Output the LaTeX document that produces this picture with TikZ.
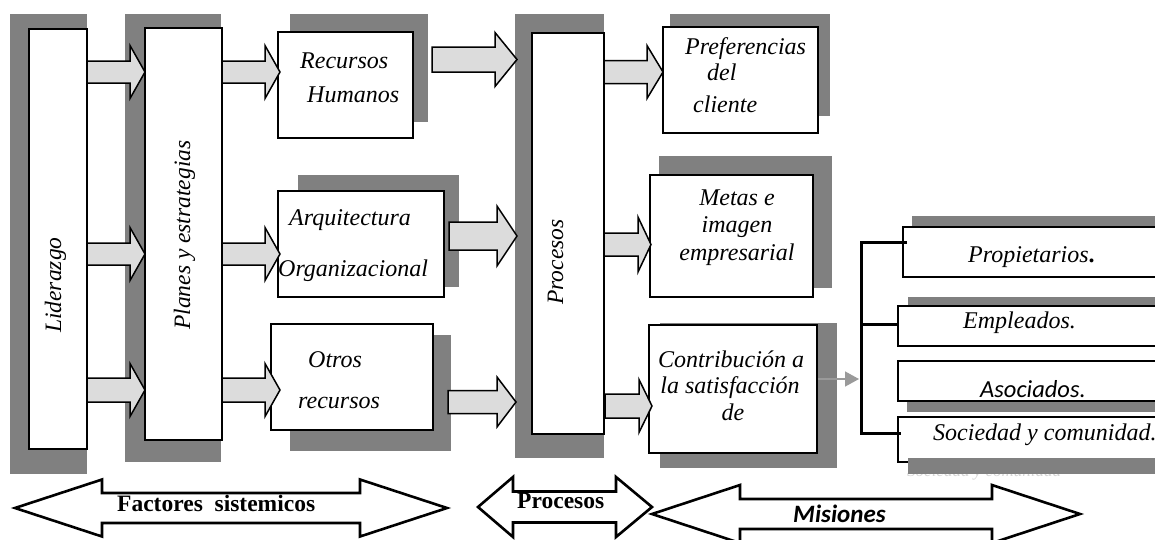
\documentclass[tikz,border=0pt]{standalone}
\usepackage{fontspec}
\setmainfont{Liberation Serif}
\newfontfamily\calfont{Carlito}
\usetikzlibrary{fit,arrows.meta}
\definecolor{shadowgray}{HTML}{808080}
\definecolor{arrowfill}{HTML}{DCDCDC}
\definecolor{ghost}{HTML}{D4D4D4}
\definecolor{linkgray}{HTML}{9A9A9A}

% gray block arrow: tail x, neck x, tip x, centre y, shaft half height, head half height
\newcommand\blockarrow[6]{%
  \draw[blockarrow] (#1,#4-#5) -- (#2,#4-#5) -- (#2,#4-#6) -- (#3,#4)
    -- (#2,#4+#6) -- (#2,#4+#5) -- (#1,#4+#5) -- cycle;}
% white double-headed span arrow: left tip, left neck, right neck, right tip, centre y, shaft half, head half
\newcommand\spanarrow[7]{%
  \draw[spanarrow] (#1,#5) -- (#2,#5-#7) -- (#2,#5-#6) -- (#3,#5-#6) -- (#3,#5-#7)
    -- (#4,#5) -- (#3,#5+#7) -- (#3,#5+#6) -- (#2,#5+#6) -- (#2,#5+#7) -- cycle;}

\begin{document}
\begin{tikzpicture}[x=1pt,y=-1pt,
  panel/.style={draw, line width=1.6pt, fill=white, inner sep=0pt},
  shade/.style={fill=shadowgray},
  blockarrow/.style={draw, line width=1.5pt, fill=arrowfill, line join=miter},
  spanarrow/.style={draw, line width=2.6pt, fill=white, line join=miter},
  lbl/.style={font=\fontsize{24}{28}\selectfont\itshape, inner sep=0pt},
  vlbl/.style={font=\fontsize{23.5}{28}\selectfont\itshape, inner sep=0pt, rotate=90, anchor=base west},
  blbl/.style={font=\fontsize{23.5}{28}\selectfont\bfseries, inner sep=0pt, anchor=base west},
  bracket/.style={line width=3pt},
  linkarrow/.style={draw=linkgray, line width=1.5pt, -{Triangle[length=14pt,width=15pt,fill=linkgray]}},
]
\useasboundingbox (0,0) rectangle (1155,539);
\clip (0,0) rectangle (1155,539);

% ---- shadows of the main panels
\fill[shade] (10,14) rectangle (87,474);
\fill[shade] (125,14) rectangle (221,462);
\fill[shade] (290,14) rectangle (428,122);
\fill[shade] (298,175) rectangle (459,287);
\fill[shade] (290,335) rectangle (451,451);
\fill[shade] (515,14) rectangle (604,458);
\fill[shade] (670,14) rectangle (830,116);
\fill[shade] (659,156) rectangle (832,288);
\fill[shade] (660,323) rectangle (837,468);

% ---- panels
\node[panel, fit={(29,29) (87,449)}] (lid) {};
\node[panel, fit={(145,28) (222,440)}] (pla) {};
\node[panel, fit={(278,32) (413,138)}] (rh) {};
\node[panel, fit={(278,191) (444,297)}] (arq) {};
\node[panel, fit={(271,324) (433,430)}] (otr) {};
\node[panel, fit={(532,33) (604,434)}] (pro) {};
\node[panel, fit={(663,27) (818,133)}] (pre) {};
\node[panel, fit={(650,175) (813,297)}] (met) {};
\node[panel, fit={(649,325) (817,453)}] (con) {};

% ---- block arrows: leadership -> plans
\blockarrow{87}{130}{145}{72}{11}{26.5}
\blockarrow{87}{130}{145}{254}{11}{26.5}
\blockarrow{87}{130}{145}{390}{12}{26.5}
% plans -> resources
\blockarrow{222}{265}{280}{72}{11}{26.5}
\blockarrow{222}{265}{280}{254}{11}{26.5}
\blockarrow{222}{265}{280}{390}{12}{26.5}
% resources -> processes
\blockarrow{432}{495}{517}{59.5}{12.5}{27}
\blockarrow{449}{497}{517}{236}{14}{30}
\blockarrow{448}{497}{516}{402}{11.5}{25}
% processes -> results
\blockarrow{604}{647}{663}{72}{11.5}{26.5}
\blockarrow{604}{638}{651}{244.5}{11.5}{27.5}
\blockarrow{605}{639}{652}{406}{12}{26.5}

% ---- panel texts
\node[vlbl] (lid-t) at (61,333) {Liderazgo};
\node[vlbl] (pla-t) at (190,330) {Planes y estrategias};
\node[vlbl] (pro-t) at (563,305) {Procesos};

\node[lbl, anchor=base west] (rh-1) at (300,68) {Recursos};
\node[lbl, anchor=base west] (rh-2) at (307,102) {Humanos};
\node[lbl, anchor=base west] (arq-1) at (289,225) {Arquitectura};
\node[lbl, anchor=base west] (arq-2) at (278,276) {Organizacional};
\node[lbl, anchor=base west] (otr-1) at (308,367) {Otros};
\node[lbl, anchor=base west] (otr-2) at (298,408) {recursos};
\node[lbl, anchor=base west] (pre-1) at (685,54) {Preferencias};
\node[lbl, anchor=base west] (pre-2) at (707,80) {del};
\node[lbl, anchor=base west] (pre-3) at (693,112) {cliente};
\node[lbl, anchor=base] (met-1) at (737,205) {Metas e};
\node[lbl, anchor=base] (met-2) at (737,232) {imagen};
\node[lbl, anchor=base] (met-3) at (737,260) {empresarial};
\node[lbl, anchor=base] (con-1) at (731,367) {Contribución a};
\node[lbl, anchor=base] (con-2) at (730,393) {la satisfacción};
\node[lbl, anchor=base] (con-3) at (733,420) {de};

% ---- stakeholder boxes
\node[font=\fontsize{17}{20}\selectfont\itshape, text=ghost, anchor=base west, inner sep=0pt]
  (soc-g) at (907,476) {Sociedad y comunidad};
\fill[shade] (912,216) rectangle (1165,240);
\node[panel, fit={(903,227) (1165,277)}] (prop) {};
\fill[shade] (908,297) rectangle (1165,315);
\node[panel, fit={(898,306) (1165,346)}] (emp) {};
\fill[shade] (907,380) rectangle (1165,412);
\node[panel, fit={(898,361) (1165,401)}] (asoc) {};
\node[panel, fit={(898,417) (1165,462)}] (soc) {};
\fill[shade] (908,458) rectangle (1165,474);

\node[lbl, anchor=base west] (prop-t) at (968,262) {Propietarios{\upshape\bfseries .}};
\node[lbl, anchor=base west] (emp-t) at (963,328) {Empleados.};
\node[font=\fontsize{24.5}{28}\selectfont\calfont\itshape, inner sep=0pt, anchor=base west]
  (asoc-t) at (980,397) {Asociados.};
\node[lbl, anchor=base west] (soc-t) at (933,440) {Sociedad y comunidad.};

% ---- bracket grouping the stakeholders
\coordinate (b1) at (861,242);
\coordinate (b2) at (861,324);
\coordinate (b3) at (861,433);
\draw[bracket] ([xshift=5pt]prop.west |- b1) -- (b1) -- (b3) -- ([xshift=4pt]soc.west |- b3);
\draw[bracket] (b2) -- (emp.west |- b2);

% ---- small link from contribution to the stakeholders
\coordinate (lk) at (859,379);
\draw[linkarrow] (con.east |- lk) -- (lk);

% ---- bottom span arrows
\spanarrow{15}{102}{360}{447}{508}{15}{28.5}
\spanarrow{478}{513}{616}{652}{507}{15.5}{30}
\spanarrow{652}{740}{992}{1080}{514}{15}{29}

\node[blbl] (fs-t) at (117,511) {Factores\ \ sistemicos};
\node[blbl] (pr-t) at (517,508) {Procesos};
\node[blbl] (mi-t) at (793,522) {\calfont\bfseries\itshape\fontsize{25}{28}\selectfont Misiones};
\end{tikzpicture}
\end{document}
